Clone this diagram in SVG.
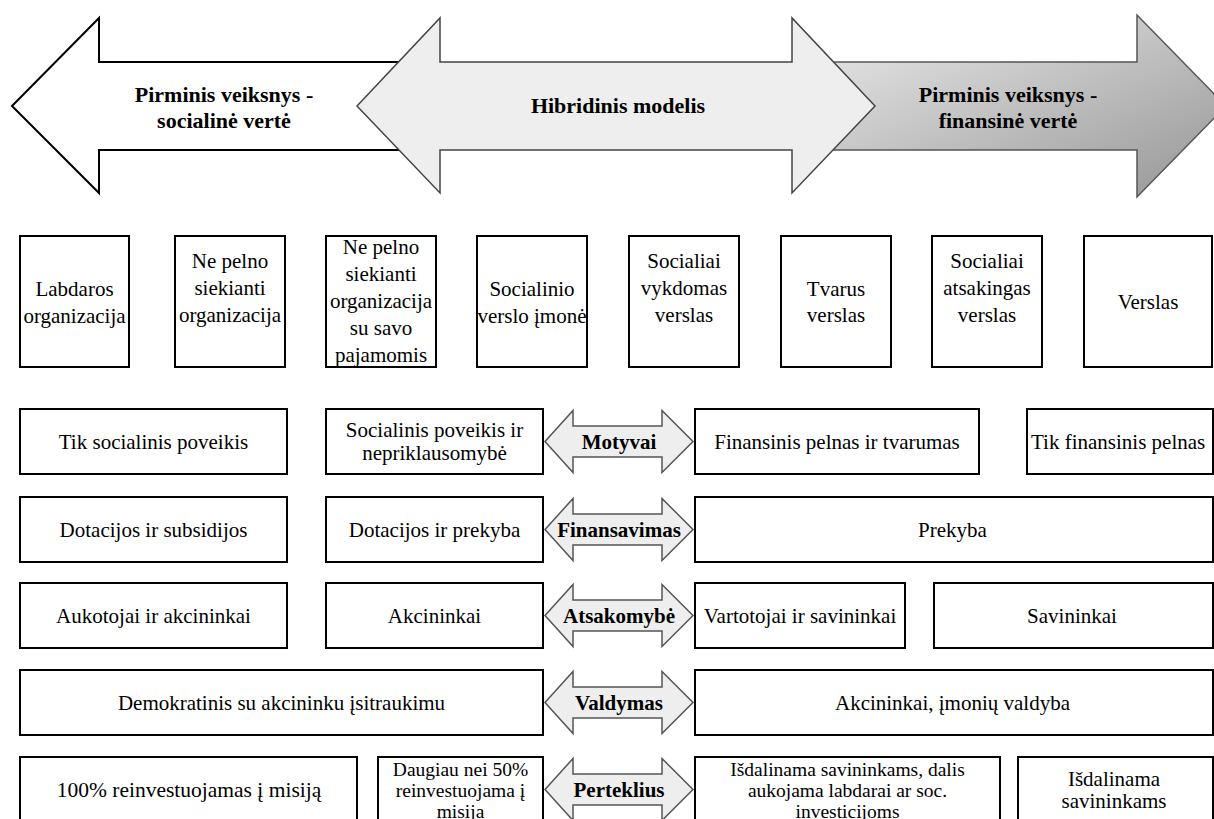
<svg xmlns="http://www.w3.org/2000/svg" xmlns:xlink="http://www.w3.org/1999/xlink" width="1214" height="819" viewBox="0 0 1214 819">
<style>
.box{fill:#fff;stroke:#000;stroke-width:2}
.t{font-family:'Liberation Serif','Times New Roman',Tinos,'DejaVu Serif',serif;font-size:21px;text-anchor:middle;fill:#000}
.s{font-size:19.5px}
.b{font-weight:bold}
.h{font-size:22px}
.dbl{fill:#eeeeee;stroke:#555;stroke-width:1.5}
</style>
<defs>
<linearGradient id="gr" x1="0" y1="0" x2="1" y2="1">
<stop offset="0" stop-color="#ededed"/>
<stop offset="1" stop-color="#959595"/>
</linearGradient>
<path id="dbl" class="dbl" d="M545,0 L573,-31 L573,-15.5 L662,-15.5 L662,-31 L693,0 L662,31 L662,15.5 L573,15.5 L573,31 Z"/>
</defs>
<rect width="1214" height="819" fill="#fff"/>

<g id="arrow-social">
<path d="M12,106 L99,18 L99,62 L430,62 L430,150 L99,150 L99,193 Z" fill="#fff" stroke="#000" stroke-width="2"/>
<text class="t b h" x="224" y="102">Pirminis veiksnys -</text>
<text class="t b h" x="224" y="128">socialinė vertė</text>
</g>
<g id="arrow-financial">
<path d="M800,62 L1137,62 L1137,15 L1226,106 L1137,197 L1137,150 L800,150 Z" fill="url(#gr)" stroke="#555" stroke-width="1.5"/>
<text class="t b h" x="1008" y="102">Pirminis veiksnys -</text>
<text class="t b h" x="1008" y="128">finansinė vertė</text>
</g>
<g id="arrow-hybrid">
<path d="M357,106 L440,18 L440,62 L792,62 L792,18 L875,106 L792,193 L792,150 L440,150 L440,193 Z" fill="#eeeeee" stroke="#444" stroke-width="1.5"/>
<text class="t b h" x="618" y="113">Hibridinis modelis</text>
</g>

<g id="type1"><rect class="box" x="20" y="236" width="109" height="131"/>
<text class="t" x="74.5" y="296">Labdaros</text><text class="t" x="74.5" y="323">organizacija</text></g>
<g id="type2"><rect class="box" x="175" y="236" width="110" height="131"/>
<text class="t" x="230" y="268">Ne pelno</text><text class="t" x="230" y="295">siekianti</text><text class="t" x="230" y="322">organizacija</text></g>
<g id="type3"><rect class="box" x="326" y="236" width="110" height="131"/>
<text class="t" x="381" y="254">Ne pelno</text><text class="t" x="381" y="281">siekianti</text><text class="t" x="381" y="308">organizacija</text><text class="t" x="381" y="335">su savo</text><text class="t" x="381" y="362">pajamomis</text></g>
<g id="type4"><rect class="box" x="477" y="236" width="110" height="131"/>
<text class="t" x="532" y="296">Socialinio</text><text class="t" x="532" y="323">verslo įmonė</text></g>
<g id="type5"><rect class="box" x="629" y="236" width="110" height="131"/>
<text class="t" x="684" y="268">Socialiai</text><text class="t" x="684" y="295">vykdomas</text><text class="t" x="684" y="322">verslas</text></g>
<g id="type6"><rect class="box" x="781" y="236" width="110" height="131"/>
<text class="t" x="836" y="296">Tvarus</text><text class="t" x="836" y="322">verslas</text></g>
<g id="type7"><rect class="box" x="932" y="236" width="110" height="131"/>
<text class="t" x="987" y="268">Socialiai</text><text class="t" x="987" y="295">atsakingas</text><text class="t" x="987" y="322">verslas</text></g>
<g id="type8"><rect class="box" x="1084" y="236" width="128" height="131"/>
<text class="t" x="1148" y="309">Verslas</text></g>

<g id="mot1"><rect class="box" x="20" y="409" width="267" height="65"/><text class="t" x="153.5" y="448.5">Tik socialinis poveikis</text></g>
<g id="mot2"><rect class="box" x="326" y="409" width="217" height="65"/><text class="t" x="434.5" y="437">Socialinis poveikis ir</text><text class="t" x="434.5" y="460">nepriklausomybė</text></g>
<g id="mot-arrow"><use xlink:href="#dbl" y="441.5"/><text class="t b" x="619" y="448.5">Motyvai</text></g>
<g id="mot3"><rect class="box" x="695" y="409" width="284" height="65"/><text class="t" x="837" y="448.5">Finansinis pelnas ir tvarumas</text></g>
<g id="mot4"><rect class="box" x="1027" y="409" width="186" height="65"/><text class="t" x="1031" y="448.5" text-anchor="start" style="text-anchor:start">Tik finansinis pelnas</text></g>

<g id="fin1"><rect class="box" x="20" y="497" width="267" height="65"/><text class="t" x="153.5" y="536.5">Dotacijos ir subsidijos</text></g>
<g id="fin2"><rect class="box" x="326" y="497" width="217" height="65"/><text class="t" x="434.5" y="536.5">Dotacijos ir prekyba</text></g>
<g id="fin-arrow"><use xlink:href="#dbl" y="529.5"/><text class="t b" x="619" y="536.5">Finansavimas</text></g>
<g id="fin3"><rect class="box" x="695" y="497" width="518" height="65"/><text class="t" x="952.5" y="536.5">Prekyba</text></g>

<g id="ats1"><rect class="box" x="20" y="583" width="267" height="65"/><text class="t" x="153.5" y="622.5">Aukotojai ir akcininkai</text></g>
<g id="ats2"><rect class="box" x="326" y="583" width="217" height="65"/><text class="t" x="434.5" y="622.5">Akcininkai</text></g>
<g id="ats-arrow"><use xlink:href="#dbl" y="615.5"/><text class="t b" x="619" y="622.5">Atsakomybė</text></g>
<g id="ats3"><rect class="box" x="695" y="583" width="210" height="65"/><text class="t" x="800" y="622.5">Vartotojai ir savininkai</text></g>
<g id="ats4"><rect class="box" x="934" y="583" width="279" height="65"/><text class="t" x="1072" y="622.5">Savininkai</text></g>

<g id="val1"><rect class="box" x="20" y="670" width="523" height="65"/><text class="t" x="281.5" y="709.5">Demokratinis su akcininku įsitraukimu</text></g>
<g id="val-arrow"><use xlink:href="#dbl" y="702.5"/><text class="t b" x="619" y="709.5">Valdymas</text></g>
<g id="val2"><rect class="box" x="695" y="670" width="518" height="65"/><text class="t" x="952.5" y="709.5">Akcininkai, įmonių valdyba</text></g>

<g id="per1"><rect class="box" x="20" y="757" width="337" height="70"/><text class="t" x="189" y="796.5" style="font-size:21.5px">100% reinvestuojamas į misiją</text></g>
<g id="per2"><rect class="box" x="378" y="757" width="165" height="70"/><text class="t s" x="460.5" y="775.5">Daugiau nei 50%</text><text class="t s" x="460.5" y="796.5">reinvestuojama į</text><text class="t s" x="460.5" y="817.5">misija</text></g>
<g id="per-arrow"><use xlink:href="#dbl" y="789.5"/><text class="t b" x="619" y="796.5">Perteklius</text></g>
<g id="per3"><rect class="box" x="695" y="757" width="305" height="70"/><text class="t s" x="847.5" y="775.5">Išdalinama savininkams, dalis</text><text class="t s" x="847.5" y="796.5">aukojama labdarai ar soc.</text><text class="t s" x="847.5" y="817.5">investicijoms</text></g>
<g id="per4"><rect class="box" x="1018" y="757" width="195" height="70"/><text class="t" x="1114" y="785.5">Išdalinama</text><text class="t" x="1114" y="807.5">savininkams</text></g>
<g id="connectors"></g>
</svg>
